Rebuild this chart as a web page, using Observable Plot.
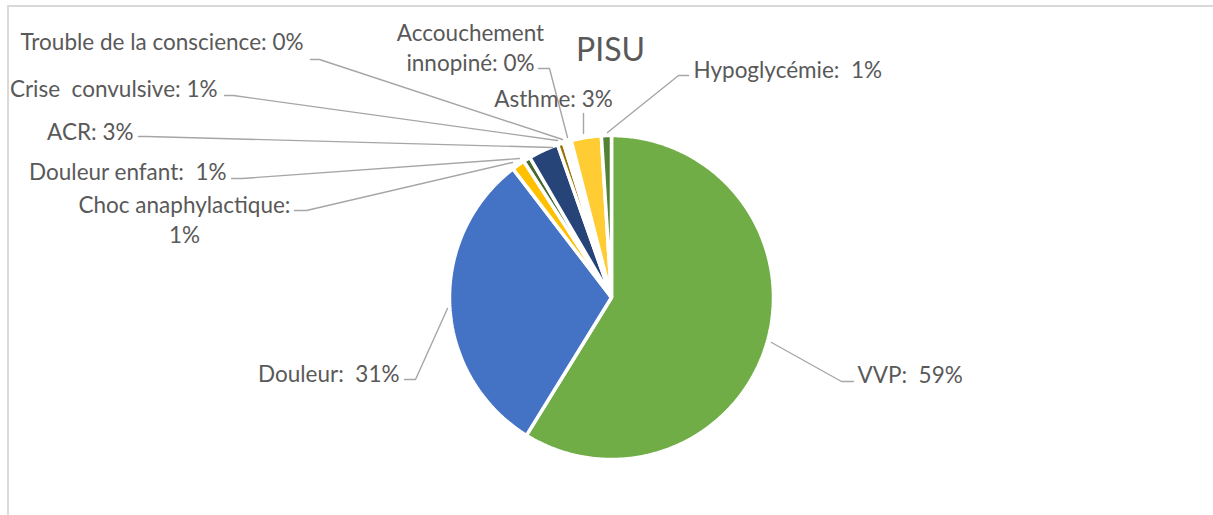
<!DOCTYPE html>
<html>
<head>
<meta charset="utf-8">
<script src="https://cdn.jsdelivr.net/npm/d3@7"></script>
<script src="https://cdn.jsdelivr.net/npm/@observablehq/plot@0.6"></script>
<style>
  html, body { margin: 0; padding: 0; background: #ffffff; }
  #wrap { position: relative; width: 1213px; height: 515px; overflow: hidden; }
  #frame { position: absolute; left: 7px; top: 5px; width: 1300px; height: 600px;
           border-left: 2px solid #D9D9D9; border-top: 2px solid #D9D9D9; pointer-events: none; z-index: 2; }
  svg text, svg tspan { white-space: pre; }
</style>
</head>
<body>
<div id="wrap"><div id="frame"></div><div id="chart"></div></div>
<script>
// ---- data ----
const title = "PISU";
const categories = ["VVP", "Douleur", "Choc anaphylactique", "Douleur enfant", "ACR",
  "Crise  convulsive", "Trouble de la conscience", "Accouchement innopiné", "Asthme", "Hypoglycémie"];
const shares = [58.8, 30.8, 1.3, 0.7, 3.0, 0.6, 0.4, 0.4, 3.0, 1.0];
const colors = ["#70AD47", "#4472C4", "#FFC000", "#43682B", "#264478",
  "#997300", "#FFFFFF", "#FFFFFF", "#FFCD33", "#548235"];

// ---- layout (pixel space) ----
const W = 1213, H = 515;
const cx = 611, cy = 297, R = 162;
const labelLayout = [
  {x: 857, y: 373, anchor: "start",  sep: ":  "},
  {x: 399, y: 372, anchor: "end",    sep: ":  "},
  {x: 184, y: 218, anchor: "middle", sep: ":\n"},
  {x: 226, y: 170, anchor: "end",    sep: ":  "},
  {x: 133, y: 130, anchor: "end",    sep: ": "},
  {x: 217, y: 87,  anchor: "end",    sep: ": "},
  {x: 303, y: 40,  anchor: "end",    sep: ": "},
  {x: 470, y: 46,  anchor: "middle", sep: ": ", wrap: true},
  {x: 553, y: 97,  anchor: "middle", sep: ": "},
  {x: 693, y: 68,  anchor: "start",  sep: ":  "}
];
const leaders = [
  [[853, 381], [841, 381], [771, 342]],
  [[404, 379], [415, 379], [447, 308]],
  [[294, 210], [306, 210], [512, 162]],
  [[231, 178], [242, 178], [519, 158]],
  [[138, 136], [146, 136], [552, 147]],
  [[224, 95],  [233, 95],  [557, 140]],
  [[310, 59],  [319, 59],  [562, 139]],
  [[538, 68],  [549, 68],  [567, 137]],
  [[583, 113], [583, 133]],
  [[688, 75],  [678, 75],  [607, 132]]
];

// ---- build slices ----
const total = d3.sum(shares);
const pie = d3.pie().sort(null).value(d => d)(shares);
const slicePts = [];
pie.forEach((p, i) => {
  const a0 = p.startAngle, a1 = p.endAngle;
  slicePts.push({cat: categories[i], px: cx, py: cy});
  const n = Math.max(2, Math.ceil((a1 - a0) / 0.01));
  for (let k = 0; k <= n; k++) {
    const a = a0 + (a1 - a0) * k / n;
    slicePts.push({cat: categories[i], px: cx + R * Math.sin(a), py: cy - R * Math.cos(a)});
  }
});

const labels = categories.map((c, i) => {
  const L = labelLayout[i];
  const name = L.wrap ? c.replace(" ", "\n") : c;
  const pct = Math.round(shares[i] / total * 100);
  return {text: `${name}${L.sep}${pct}%`, x: L.x, y: L.y, anchor: L.anchor};
});
const leaderPts = leaders.flatMap((pts, i) => pts.map(([x, y]) => ({cat: categories[i], x, y})));

const font = "Lato, 'Open Sans', sans-serif";
const chart = Plot.plot({
  width: W, height: H,
  margin: 0,
  x: {domain: [0, W], range: [0, W], axis: null},
  y: {domain: [0, H], range: [0, H], axis: null},
  color: {domain: categories, range: colors},
  style: {fontFamily: font, background: "transparent", color: "#595959"},
  marks: [
    Plot.line(slicePts, {x: "px", y: "py", z: "cat", fill: "cat", stroke: "white",
      strokeWidth: 3.5, strokeLinejoin: "miter", curve: "linear-closed"}),
    Plot.line(leaderPts, {x: "x", y: "y", z: "cat", stroke: "#A6A6A6", strokeWidth: 1.4}),
    ...["start", "middle", "end"].map(a => Plot.text(labels.filter(d => d.anchor === a), {
      x: "x", y: "y", text: "text", textAnchor: a, lineAnchor: "middle",
      lineHeight: 1.35, fontSize: 22.5, fill: "#595959"})),
    Plot.text([title], {x: () => 610, y: () => 50, text: d => d, fontSize: 32,
      fill: "#595959", lineAnchor: "middle"})
  ]
});
document.getElementById("chart").appendChild(chart);
</script>
</body>
</html>
